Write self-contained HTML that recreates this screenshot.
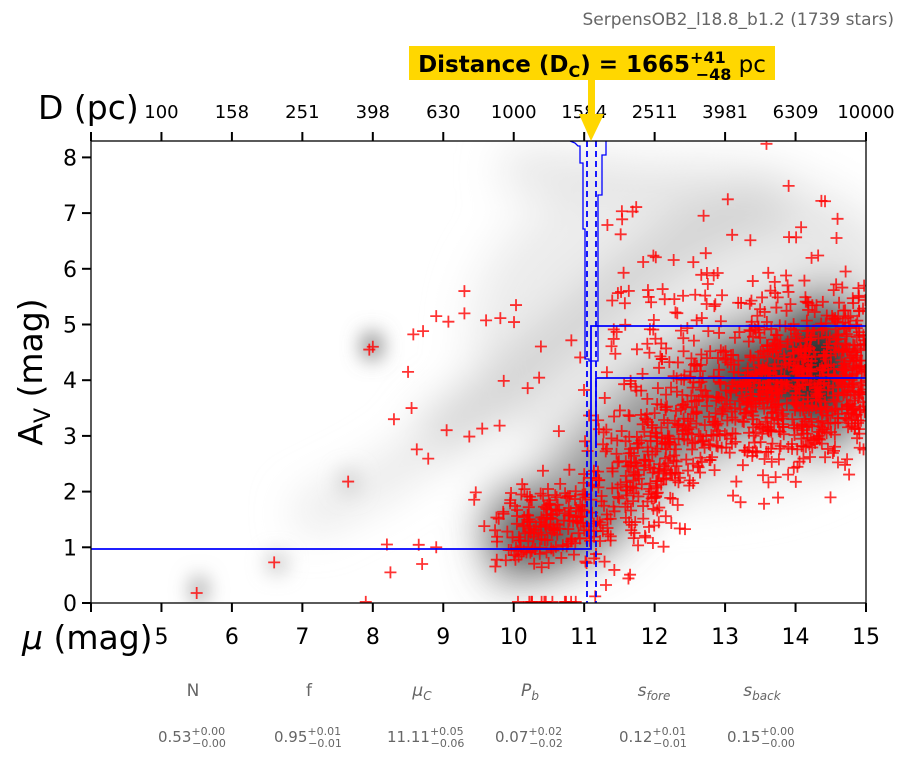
<!DOCTYPE html>
<html><head><meta charset="utf-8"><style>
html,body{margin:0;padding:0;background:#fff;}
svg{display:block;font-family:"DejaVu Sans","Liberation Sans",sans-serif;}
</style></head><body>
<svg id="s" width="909" height="759" viewBox="0 0 909 759" xmlns="http://www.w3.org/2000/svg">
<defs>
<filter id="b1" x="-50%" y="-50%" width="200%" height="200%"><feGaussianBlur stdDeviation="22"/></filter>
<filter id="b2" x="-50%" y="-50%" width="200%" height="200%"><feGaussianBlur stdDeviation="10"/></filter>
<clipPath id="c"><rect x="91" y="141" width="775" height="462"/></clipPath>
</defs>
<text x="894" y="25" text-anchor="end" font-size="17" fill="#666">SerpensOB2_l18.8_b1.2 (1739 stars)</text>
<g clip-path="url(#c)">
<g filter="url(#b1)">
<ellipse cx="700" cy="330" rx="230" ry="170" fill="#ececec"/>
<polyline points="505,170 580,175 680,190 780,220 860,250" fill="none" stroke="#e4e4e4" stroke-width="40"/>
<polyline points="430,440 500,390 570,330 640,270 700,230 780,200" fill="none" stroke="#d0d0d0" stroke-width="45"/>
<polyline points="490,548 550,535 590,515 620,480 660,440 700,415 740,400 790,385 866,380" fill="none" stroke="#666" stroke-width="70"/>
<polyline points="500,520 560,500 600,450 650,400 720,360 800,330 866,320" fill="none" stroke="#999" stroke-width="60"/>
<ellipse cx="820" cy="370" rx="55" ry="80" fill="#333"/>
<ellipse cx="740" cy="380" rx="40" ry="45" fill="#444"/>
<ellipse cx="540" cy="530" rx="40" ry="25" fill="#333"/>
<polyline points="300,520 380,480 440,440" fill="none" stroke="#e2e2e2" stroke-width="30"/>
</g>
<g filter="url(#b2)">
<ellipse cx="372" cy="346" rx="10" ry="14" fill="#777"/>
<ellipse cx="199" cy="590" rx="8" ry="14" fill="#999"/>
<ellipse cx="277" cy="563" rx="10" ry="10" fill="#bbb"/>
<ellipse cx="349" cy="482" rx="10" ry="12" fill="#ccc"/>
</g>
<g id="pts" stroke="#f00" stroke-opacity="0.8" stroke-width="1.8"></g>
<polyline points="91,549 591,549 591,326 866,326" fill="none" stroke="#00f" stroke-width="1.8"/>
<polyline points="596,448 596,378 866,378" fill="none" stroke="#00f" stroke-width="1.8"/>
<polyline points="570,141 575,143 578,146 580,146 580,163 583,163 583,229 585,229 585,359 589,359 589,361 598,361 598,195 602,195 602,155 606,155 606,141" fill="none" stroke="#00f" stroke-width="1.3"/>
<line x1="587" y1="141" x2="587" y2="603" stroke="#00f" stroke-width="1.8" stroke-dasharray="6,4"/>
<line x1="596" y1="141" x2="596" y2="603" stroke="#00f" stroke-width="1.8" stroke-dasharray="6,4"/>
</g>
<line x1="91" y1="141" x2="866" y2="141" stroke="#00f" stroke-width="1"/>
<rect x="91" y="141" width="775" height="462" fill="none" stroke="#000" stroke-width="1.3"/>
<g id="ax" stroke="#000" stroke-width="2"></g>
<g id="axt" font-size="22" fill="#000"></g>
<text x="38" y="119" font-size="33">D (pc)</text>
<text x="22" y="649" font-size="33"><tspan font-style="italic">μ</tspan> (mag)</text>
<text transform="translate(42,372) rotate(-90)" text-anchor="middle" font-size="33">A<tspan font-size="22" dy="8">V</tspan><tspan dy="-8"> (mag)</tspan></text>
<rect x="409" y="46" width="366" height="34" fill="#ffd700"/>
<text x="592" y="72" text-anchor="middle" font-size="23"><tspan font-weight="bold">Distance (D<tspan font-size="16" dy="5">C</tspan><tspan dy="-5">) = 1665</tspan><tspan font-size="16" dy="-9">+41</tspan><tspan font-size="16" dx="-30" dy="17">−48</tspan></tspan><tspan dy="-8"> pc</tspan></text>
<rect x="588" y="80" width="7" height="36" fill="#ffd700"/>
<polygon points="579,114 604,114 591,141" fill="#ffd700"/>
<g font-size="17" fill="#666" text-anchor="middle">
<text x="193" y="696">N</text><text x="309" y="696">f</text>
<text x="422" y="696" font-style="italic">μ<tspan font-size="12" dy="4">C</tspan></text>
<text x="530" y="696" font-style="italic">P<tspan font-size="12" dy="4">b</tspan></text>
<text x="654" y="696" font-style="italic">s<tspan font-size="12" dy="4">fore</tspan></text>
<text x="762" y="696" font-style="italic">s<tspan font-size="12" dy="4">back</tspan></text>
</g>
<g id="vals" font-size="15" fill="#666"></g>
</svg>
<script>
var ns="http://www.w3.org/2000/svg";
function el(p,t,a,txt){var e=document.createElementNS(ns,t);for(var k in a)e.setAttribute(k,a[k]);if(txt!==undefined)e.textContent=txt;p.appendChild(e);return e;}
function X(m){return 91+(m-4)*775/11;}
function Y(a){return 603-a*55.7;}
var ax=document.getElementById('ax'),axt=document.getElementById('axt');
var dl=["100","158","251","398","630","1000","1584","2511","3981","6309","10000"];
for(var m=4;m<=15;m++){var x=X(m);
 el(ax,'line',{x1:x,y1:603,x2:x,y2:612});
 el(ax,'line',{x1:x,y1:141,x2:x,y2:132});
 if(m>=5){el(axt,'text',{x:x,y:644,'text-anchor':'middle'},String(m));
 el(axt,'text',{x:x,y:118,'text-anchor':'middle','font-size':'18'},dl[m-5]);}}
for(var a=0;a<=8;a++){var y=Y(a);el(ax,'line',{x1:91,y1:y,x2:82,y2:y});el(axt,'text',{x:77,y:y+8,'text-anchor':'end'},String(a));}
var vals=[[193,"0.53","+0.00","−0.00"],[309,"0.95","+0.01","−0.01"],[422,"11.11","+0.05","−0.06"],[530,"0.07","+0.02","−0.02"],[654,"0.12","+0.01","−0.01"],[762,"0.15","+0.00","−0.00"]];
var vg=document.getElementById('vals');
vals.forEach(function(v){var t=el(vg,'text',{x:v[0]-35,y:742});
 el(t,'tspan',{},v[1]);el(t,'tspan',{'font-size':'11',dy:'-7'},v[2]);
 var w=v[2].length*6.6;el(t,'tspan',{'font-size':'11',dx:-w,dy:'12'},v[3]);});
var seed=12345;function r(){seed=(seed*16807)%2147483647;return seed/2147483647;}
function g(){return (r()+r()+r()+r()-2)*1.2;}
var pg=document.getElementById('pts');
function plus(m,a){if(m<4||m>15.2||a<-0.1||a>8.3)return;var x=X(m),y=Y(Math.max(a,0.02));
 el(pg,'path',{d:'M'+(x-6)+' '+y+'h12M'+x+' '+(y-6)+'v12'});}
function band(m){if(m<11)return 1.2+(m-10)*0.45;if(m<13)return 1.65+(m-11)*0.95;return 3.55+(m-13)*0.25;}
for(var i=0;i<950;i++){var m=9.7+Math.pow(r(),0.8)*5.3;var s=m<11?0.5:1.0;plus(m,band(m)+g()*s);}
for(var i=0;i<220;i++){var m=13.3+r()*1.7;plus(m,4+g()*1.0);}
for(var i=0;i<140;i++){var m=11.3+r()*3.7;plus(m,5.3+g()*1.4);}
for(var i=0;i<35;i++){var m=8.5+r()*2.5;plus(m,1+r()*4.5);}
for(var i=0;i<12;i++){plus(10+r()*1.1,0.02);}
[[5.5,0.18],[6.6,0.73],[7.65,2.18],[7.95,4.55],[8.0,4.6],[8.2,1.05],[8.3,3.3],[8.25,0.55],[7.9,0.02],[8.5,4.15],[8.55,3.5],[8.7,0.7],[8.9,1.0],[8.9,5.15],[9.3,5.6],[9.3,5.2]].forEach(function(p){plus(p[0],p[1]);});
</script>
</body></html>
